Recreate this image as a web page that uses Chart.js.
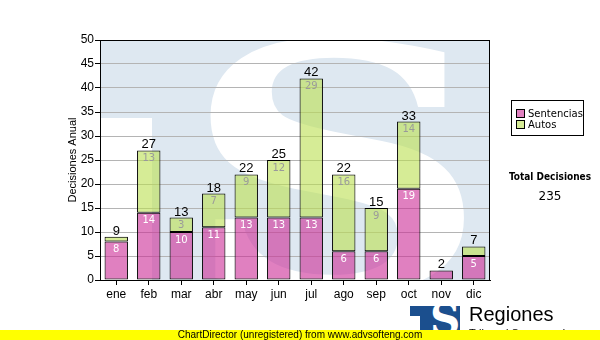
<!DOCTYPE html>
<html>
<head>
<meta charset="utf-8">
<script src="https://cdn.jsdelivr.net/npm/chart.js@4.4.0/dist/chart.umd.min.js"></script>
<style>
    body { margin: 0; background: #fff; }
    #wrap { position: relative; width: 600px; height: 340px; overflow: hidden; font-family: 'DejaVu Sans', sans-serif; }
    #grafico { position: absolute; left: 0; top: 0; }
    .leyenda { position: absolute; left: 511px; top: 100px; width: 71px; height: 34px; border: 1px solid #000; font-size: 10px; }
    .item { position: absolute; left: 4px; height: 10px; line-height: 10px; white-space: nowrap; }
    .item span { display: inline-block; width: 7px; height: 7px; border: 1px solid #000; margin-right: 3px; vertical-align: -1px; }
    .total { position: absolute; left: 500px; width: 100px; text-align: center; }
    .logo { position: absolute; left: 410px; top: 306px; width: 50px; height: 30px; background: #1b4f8e; overflow: hidden; }
    .logo b { position: absolute; left: 20px; top: -11px; color: #fff; font: bold 42px 'DejaVu Serif', serif; }
    .logo i { position: absolute; left: 0; top: 10px; width: 10px; height: 30px; background: #fff; }
    .regiones { position: absolute; left: 469px; top: 303px; font: 20px 'Liberation Sans', Arial, sans-serif; color: #000; }
    .sub { position: absolute; left: 469px; top: 327px; font: 11px 'Liberation Sans', Arial, sans-serif; color: #000; }
    .pie { position: absolute; left: 0; top: 330px; width: 600px; height: 10px; background: #ffff00; font: 10px 'Liberation Sans', Arial, sans-serif; line-height: 10px; text-align: center; color: #000; }
</style>
</head>
<body>
<div id="wrap">
    <canvas id="grafico" width="600" height="340"></canvas>
    <div class="leyenda">
        <div class="item" style="top:8px"><span style="background:#e080c0"></span>Sentencias</div>
        <div class="item" style="top:19px"><span style="background:#d6ec96"></span>Autos</div>
    </div>
    <div class="total" style="top:171px;font-weight:bold;font-size:10px;font-family:'DejaVu Sans Condensed','DejaVu Sans',sans-serif">Total Decisiones</div>
    <div class="total" style="top:189px;font-size:12px">235</div>
    <div class="logo"><i></i><b>S</b></div>
    <div class="regiones">Regiones</div>
    <div class="sub">Tribunal Supremo de Justicia</div>
    <div class="pie">ChartDirector (unregistered) from www.advsofteng.com</div>
</div>
<script>
// Datos por mes
const meses = ['ene', 'feb', 'mar', 'abr', 'may', 'jun', 'jul', 'ago', 'sep', 'oct', 'nov', 'dic'];
const sentencias = [8, 14, 10, 11, 13, 13, 13, 6, 6, 19, 2, 5];
const autos = [1, 13, 3, 7, 9, 12, 29, 16, 9, 14, 0, 2];
const ejeMin = 0;
const ejeMax = 50;
const ejePaso = 5;

// Logo de fondo dentro del area del grafico
const marcaAgua = {
    id: 'marcaAgua',
    beforeDraw(chart) {
        const { ctx, chartArea: a } = chart;
        ctx.save();
        ctx.beginPath();
        ctx.rect(a.left, a.top, a.width, a.height);
        ctx.clip();
        ctx.fillStyle = '#dee8f1';
        ctx.fillRect(a.left, a.top, a.width, a.height);
        ctx.fillStyle = '#fff';
        ctx.fillRect(a.left, a.top + 78, 52, a.height);
        ctx.font = 'bold 340px "DejaVu Serif", serif';
        ctx.textAlign = 'center';
        ctx.textBaseline = 'alphabetic';
        ctx.translate(a.left + 236, a.bottom + 10);
        ctx.scale(1.25, 1);
        ctx.fillText('S', 0, 0);
        ctx.restore();
    }
};

// Valores dentro de cada tramo y total encima de la barra
const etiquetas = {
    id: 'etiquetas',
    afterDatasetsDraw(chart) {
        const { ctx, chartArea: a } = chart;
        const m0 = chart.getDatasetMeta(0);
        const m1 = chart.getDatasetMeta(1);
        ctx.save();
        ctx.textAlign = 'center';
        ctx.font = '10px "DejaVu Sans", sans-serif';
        ctx.textBaseline = 'middle';
        meses.forEach((m, i) => {
            if (sentencias[i] >= 3) {
                ctx.fillStyle = '#fff';
                ctx.fillText(sentencias[i], m0.data[i].x, m0.data[i].y + 8);
            }
            if (autos[i] >= 3) {
                ctx.fillStyle = '#9a9a9a';
                ctx.fillText(autos[i], m1.data[i].x, m1.data[i].y + 8);
            }
        });
        ctx.font = '13px "Liberation Sans", Arial, sans-serif';
        ctx.textBaseline = 'alphabetic';
        ctx.fillStyle = '#000';
        meses.forEach((m, i) => {
            const tope = Math.min(m0.data[i].y, m1.data[i].y);
            ctx.fillText(sentencias[i] + autos[i], m0.data[i].x, tope - 2);
        });
        // borde superior y derecho del area
        ctx.strokeStyle = '#000';
        ctx.lineWidth = 1;
        ctx.strokeRect(Math.round(a.left) + 0.5, Math.round(a.top) + 0.5, Math.round(a.width) - 1, Math.round(a.height));
        ctx.restore();
    }
};

new Chart(document.getElementById('grafico'), {
    type: 'bar',
    data: {
        labels: meses,
        datasets: [{
            label: 'Sentencias',
            data: sentencias,
            backgroundColor: 'rgba(203, 43, 150, 0.6)',
            borderColor: '#000',
            borderWidth: 1,
            borderSkipped: false
        }, {
            label: 'Autos',
            data: autos,
            backgroundColor: 'rgba(187, 223, 80, 0.6)',
            borderColor: '#000',
            borderWidth: 1,
            borderSkipped: false
        }]
    },
    options: {
        responsive: false,
        animation: false,
        events: [],
        layout: { padding: { top: 40, right: 110, left: 0, bottom: 0 } },
        barPercentage: 0.72,
        categoryPercentage: 1,
        plugins: {
            legend: { display: false },
            tooltip: { enabled: false }
        },
        scales: {
            x: {
                stacked: true,
                afterFit: s => { s.height = 60; },
                grid: { drawOnChartArea: false, offset: false, tickLength: 5, tickColor: '#000' },
                border: { color: '#000' },
                ticks: { color: '#000', padding: 2, font: { family: 'Liberation Sans', size: 12 } }
            },
            y: {
                stacked: true,
                min: ejeMin,
                max: ejeMax,
                afterFit: s => { s.width = 100; },
                grid: { color: '#b4b4b4', tickLength: 5, tickColor: '#000' },
                border: { color: '#000' },
                ticks: { stepSize: ejePaso, color: '#000', padding: 1, font: { family: 'Liberation Sans', size: 12 } },
                title: {
                    display: true,
                    text: 'Decisiones Anual',
                    color: '#000',
                    padding: { top: 66, bottom: 0 },
                    font: { family: 'Liberation Sans', size: 11 }
                }
            }
        }
    },
    plugins: [marcaAgua, etiquetas]
});
</script>
</body>
</html>
